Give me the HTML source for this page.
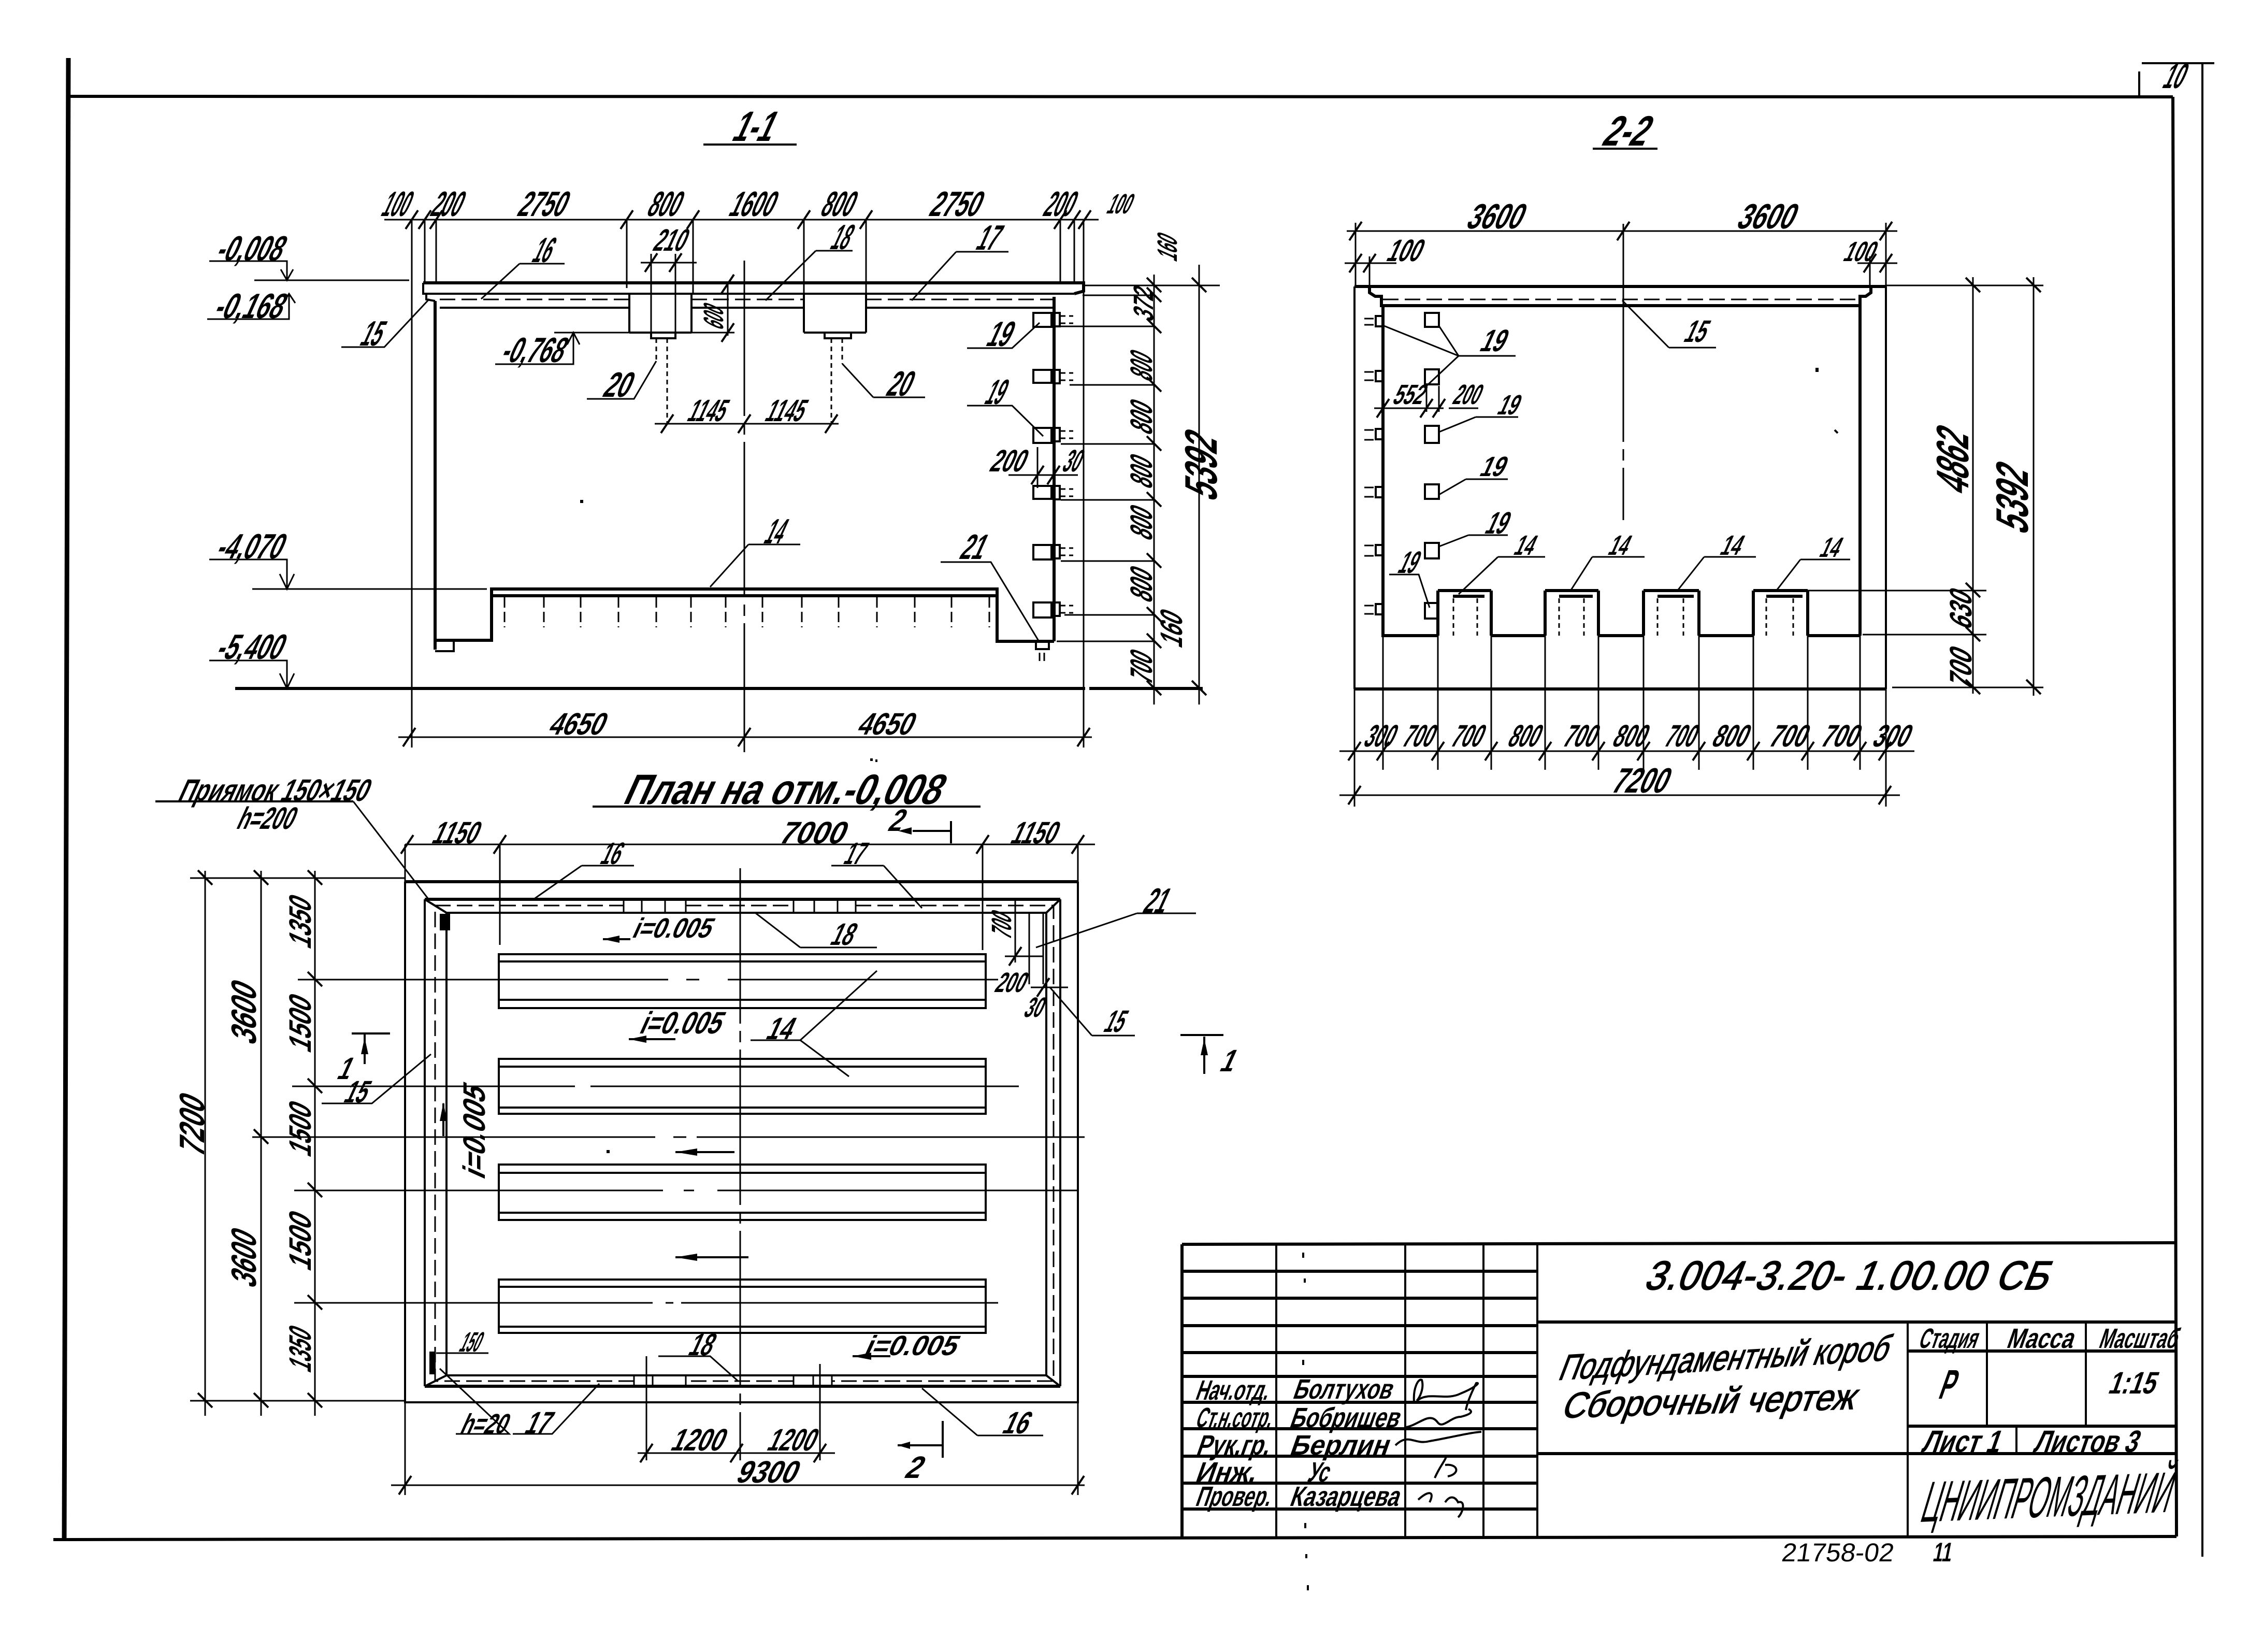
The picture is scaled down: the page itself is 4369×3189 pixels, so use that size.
<!DOCTYPE html>
<html lang="ru"><head><meta charset="utf-8"><title>Подфундаментный короб</title>
<style>
html,body{margin:0;padding:0;background:#fff}
svg{display:block}
path,polyline{fill:none;stroke:#000;stroke-linecap:butt}
.k{stroke-width:6}.m{stroke-width:4}.h{stroke-width:3}
.da{stroke-width:3;stroke-dasharray:30 12}
.db{stroke-width:3;stroke-dasharray:9 7}
.c{stroke-width:3;stroke-dasharray:300 14 22 14}
.d{stroke-width:0;marker:url(#t)}.v{stroke-width:0;marker:url(#u)}
.f{fill:#000;stroke:none}
text{font-family:"Liberation Sans",sans-serif;font-weight:bold;fill:#000;font-size:68px}
.s{font-size:54px}.n{font-size:60px}.b{font-size:82px}.g{font-size:88px}
</style></head><body>
<svg xmlns="http://www.w3.org/2000/svg" width="4369" height="3189" viewBox="0 0 4369 3189">
<defs>
<marker id="t" markerUnits="userSpaceOnUse" markerWidth="40" markerHeight="50" refX="20" refY="25" orient="0"><path d="M8 43L32 7" style="stroke-width:4"/></marker>
<marker id="u" markerUnits="userSpaceOnUse" markerWidth="40" markerHeight="50" refX="20" refY="25" orient="0"><path d="M6 10L34 38" style="stroke-width:4"/></marker>
</defs>
<rect width="4369" height="3189" fill="#fff"/>

<!-- sheet frame -->
<path style="stroke-width:9" d="M132 112L124 2972"/>
<path class="k" d="M132 186L4195 187M103 2972L4202 2966"/>
<path class="k" d="M4195 187L4202 2966"/>
<path class="m" d="M4252 122V3005M4135 122H4275M4130 138V185"/>
<text transform="matrix(1 0 -.45 1 4172 170)" textLength="38" lengthAdjust="spacingAndGlyphs">10</text>

<!-- SECTION 1-1 -->
<text class="b" transform="matrix(1 0 -.45 1 1410 272)" textLength="76" lengthAdjust="spacingAndGlyphs">1-1</text>
<path class="m" d="M1358 279H1538"/>
<path class="k" d="M817 546H2092V562L2074 567M840 581V1254M2035 573V1238M840 1236H949V1137H1925V1238H2035M949 1150H1925M454 1329H2095M2103 1329H2322"/>
<path class="m" d="M817 546V567H2074M823 567V578L840 581M1215 642H1335M1552 642H1672M1215 567V642M1335 567V642M1552 567V642M1672 567V642M1257 642V653H1304V642M1592 642V653H1643V642M840 1257H876V1236M2000 1238V1253H2025V1238M849 594H1215M1335 594H1552M1672 594H2035"/>
<path class="da" d="M849 578H1215M1335 578H1552M1672 578H2035M2007 1260V1276M2016 1260V1276"/>
<path class="h" d="M491 541H790M487 1137H940M742 424H2121M795 424V1443M820 424V546M842 424V546M1210 424V556M1338 424V567M1552 424V567M1672 424V567M2047 424V546M2074 424V546M2092 424V1443M1237 507H1345M1257 490V642M1304 490V642M1070 642H1418M1405 548V648M769 1423H2108M1264 818H1619M1947 917H2081M2003 863V942M2034 863V942M2228 530V1360M2315 511V1360M2092 551H2355M2090 570H2228M2048 630H2228M2065 743H2228M2048 857H2228M2048 965H2228M2048 1083H2228M2055 1187H2228M2040 1238H2228"/>
<path class="db" d="M1267 653V700M1288 653V820M1605 653V820M1626 653V702"/>
<path class="c" d="M1437 503V1452"/>
<polyline class="d" points="795,424 820,424 842,424 1210,424 1338,424 1552,424 1672,424 2047,424 2074,424 2094,424"/>
<polyline class="d" points="1257,507 1304,507"/>
<polyline class="d" points="790,1423 1437,1423 2092,1423"/>
<polyline class="d" points="1288,818 1437,818 1605,818"/>
<polyline class="d" points="2003,917 2034,917"/>
<polyline class="v" points="2228,551 2228,570 2228,630 2228,743 2228,857 2228,965 2228,1083 2228,1187 2228,1238 2228,1329"/>
<polyline class="v" points="2315,551 2315,1329"/>
<polyline class="d" points="1405,548 1405,642"/>
<!-- squares + brackets -->
<path class="m" d="M1995 604h35v27h-35zM1995 714h35v25h-35zM1995 826h35v29h-35zM1995 938h35v25h-35zM1995 1052h35v28h-35zM1995 1163h35v29h-35zM2037 604H2046V630H2037M2037 714H2046V740H2037M2037 826H2046V852H2037M2037 938H2046V964H2037M2037 1052H2046V1078H2037M2037 1163H2046V1189H2037"/>
<path class="db" d="M2048 610H2072M2048 624H2072M2048 720H2072M2048 734H2072M2048 832H2072M2048 846H2072M2048 944H2072M2048 958H2072M2048 1058H2072M2048 1072H2072M2048 1169H2072M2048 1183H2072"/>
<!-- elevation arrows -->
<path class="h" d="M404 504H554V541M542 520L554 541L566 520M400 616H558V567M546 585L558 567L570 585M404 1080H554V1137M540 1108L554 1137L568 1108M404 1275H554V1329M540 1300L554 1329L568 1300M956 703H1107V642M1095 665L1107 642L1119 665"/>
<!-- leaders -->
<path class="h" d="M659 670H742L829 577M1003 509H1090M1003 509L929 577M1575 484H1646M1575 484L1478 580M1846 486H1947M1846 486L1760 580M1867 672H1954L2007 623M1867 783H1954L2014 842M1133 770H1224L1267 697M1686 767H1786M1686 767L1626 702M1445 1051H1545M1445 1051L1371 1133M1816 1085H1913L2007 1240"/>
<!-- dashes in footing -->
<path class="da" d="M974 1153V1211M1050 1153V1211M1121 1153V1211M1194 1153V1211M1267 1153V1211M1334 1153V1211M1401 1153V1211M1472 1153V1211M1548 1153V1211M1619 1153V1211M1693 1153V1211M1766 1153V1211M1837 1153V1211M1910 1153V1211" style="stroke-dasharray:20 8"/>
<!-- 1-1 text -->
<g>
<text transform="matrix(1 0 -.45 1 733 417)" textLength="50" lengthAdjust="spacingAndGlyphs">100</text>
<text transform="matrix(1 0 -.45 1 828 417)" textLength="56" lengthAdjust="spacingAndGlyphs">200</text>
<text transform="matrix(1 0 -.45 1 996 417)" textLength="90" lengthAdjust="spacingAndGlyphs">2750</text>
<text transform="matrix(1 0 -.45 1 1246 417)" textLength="60" lengthAdjust="spacingAndGlyphs">800</text>
<text transform="matrix(1 0 -.45 1 1404 417)" textLength="84" lengthAdjust="spacingAndGlyphs">1600</text>
<text transform="matrix(1 0 -.45 1 1581 417)" textLength="60" lengthAdjust="spacingAndGlyphs">800</text>
<text transform="matrix(1 0 -.45 1 1791 417)" textLength="95" lengthAdjust="spacingAndGlyphs">2750</text>
<text transform="matrix(1 0 -.45 1 2011 417)" textLength="55" lengthAdjust="spacingAndGlyphs">200</text>
<text class="s" transform="matrix(1 0 -.45 1 2134 412)" textLength="44" lengthAdjust="spacingAndGlyphs">100</text>
<text class="n" transform="matrix(1 0 -.45 1 1258 484)" textLength="60" lengthAdjust="spacingAndGlyphs">210</text>
<text class="n" transform="matrix(1 0 -.45 1 1056 1418)" textLength="105" lengthAdjust="spacingAndGlyphs">4650</text>
<text class="n" transform="matrix(1 0 -.45 1 1652 1418)" textLength="105" lengthAdjust="spacingAndGlyphs">4650</text>
<text class="n" transform="matrix(1 0 -.45 1 1324 813)" textLength="70" lengthAdjust="spacingAndGlyphs">1145</text>
<text class="n" transform="matrix(1 0 -.45 1 1474 813)" textLength="72" lengthAdjust="spacingAndGlyphs">1145</text>
<text class="n" transform="matrix(1 0 -.45 1 1908 910)" textLength="65" lengthAdjust="spacingAndGlyphs">200</text>
<text class="n" transform="matrix(1 0 -.45 1 2048 910)" textLength="32" lengthAdjust="spacingAndGlyphs">30</text>
<text transform="matrix(1 0 -.45 1 414 503)" textLength="125" lengthAdjust="spacingAndGlyphs">-0,008</text>
<text transform="matrix(1 0 -.45 1 410 614)" textLength="130" lengthAdjust="spacingAndGlyphs">-0,168</text>
<text transform="matrix(1 0 -.45 1 964 699)" textLength="118" lengthAdjust="spacingAndGlyphs">-0,768</text>
<text transform="matrix(1 0 -.45 1 414 1078)" textLength="125" lengthAdjust="spacingAndGlyphs">-4,070</text>
<text transform="matrix(1 0 -.45 1 414 1272)" textLength="125" lengthAdjust="spacingAndGlyphs">-5,400</text>
<text transform="matrix(1 0 -.45 1 692 667)" textLength="38" lengthAdjust="spacingAndGlyphs">15</text>
<text transform="matrix(1 0 -.45 1 1024 506)" textLength="34" lengthAdjust="spacingAndGlyphs">16</text>
<text transform="matrix(1 0 -.45 1 1600 481)" textLength="34" lengthAdjust="spacingAndGlyphs">18</text>
<text transform="matrix(1 0 -.45 1 1881 482)" textLength="40" lengthAdjust="spacingAndGlyphs">17</text>
<text transform="matrix(1 0 -.45 1 1901 668)" textLength="44" lengthAdjust="spacingAndGlyphs">19</text>
<text transform="matrix(1 0 -.45 1 1898 780)" textLength="34" lengthAdjust="spacingAndGlyphs">19</text>
<text transform="matrix(1 0 -.45 1 1161 766)" textLength="50" lengthAdjust="spacingAndGlyphs">20</text>
<text transform="matrix(1 0 -.45 1 1708 764)" textLength="44" lengthAdjust="spacingAndGlyphs">20</text>
<text transform="matrix(1 0 -.45 1 1472 1049)" textLength="34" lengthAdjust="spacingAndGlyphs">14</text>
<text transform="matrix(1 0 -.45 1 1850 1079)" textLength="44" lengthAdjust="spacingAndGlyphs">21</text>
<!-- vertical -->
<text class="s" transform="matrix(0 -1 1 .45 2272 507)" textLength="46" lengthAdjust="spacingAndGlyphs">160</text>
<text class="s" transform="matrix(0 -1 1 .45 2226 623)" textLength="60" lengthAdjust="spacingAndGlyphs">372</text>
<text class="n" transform="matrix(0 -1 1 .45 2224 739)" textLength="50" lengthAdjust="spacingAndGlyphs">800</text>
<text class="n" transform="matrix(0 -1 1 .45 2224 842)" textLength="58" lengthAdjust="spacingAndGlyphs">800</text>
<text class="n" transform="matrix(0 -1 1 .45 2224 946)" textLength="56" lengthAdjust="spacingAndGlyphs">800</text>
<text class="n" transform="matrix(0 -1 1 .45 2224 1046)" textLength="58" lengthAdjust="spacingAndGlyphs">800</text>
<text class="n" transform="matrix(0 -1 1 .45 2224 1166)" textLength="60" lengthAdjust="spacingAndGlyphs">800</text>
<text class="n" transform="matrix(0 -1 1 .45 2282 1253)" textLength="64" lengthAdjust="spacingAndGlyphs">160</text>
<text class="n" transform="matrix(0 -1 1 .45 2224 1323)" textLength="56" lengthAdjust="spacingAndGlyphs">700</text>
<text class="g" transform="matrix(0 -1 1 .45 2349 971)" textLength="122" lengthAdjust="spacingAndGlyphs">5392</text>
<text class="s" transform="matrix(0 -1 1 .45 1396 639)" textLength="42" lengthAdjust="spacingAndGlyphs">600</text>
</g>

<!-- SECTION 2-2 -->
<text class="b" transform="matrix(1 0 -.45 1 3090 281)" textLength="84" lengthAdjust="spacingAndGlyphs">2-2</text>
<path class="m" d="M3075 287H3200"/>
<path class="k" d="M2615 553H3641M2615 1330H3641M2644 553V565L2655 572H2667V590H3591V572H3602L3612 565V553"/>
<path class="k" d="M2670 593V1227H2776M2879 1227H2983M3086 1227H3173M3280 1227H3385M3490 1227H3591M3591 591V1227M2776 1140H2879M2983 1140H3086M3173 1140H3280M3385 1140H3490M2776 1140V1227M2879 1140V1227M2983 1140V1227M3086 1140V1227M3173 1140V1227M3280 1140V1227M3385 1140V1227M3490 1140V1227"/>
<path class="k" d="M2805 1151H2866M3010 1151H3075M3200 1151H3270M3410 1151H3480"/>
<path class="m" d="M2615 553V1330M3641 553V1330"/>
<path class="da" d="M2670 578H3590"/>
<path class="db" d="M2806 1155V1227M2852 1155V1227M3010 1155V1227M3058 1155V1227M3200 1155V1227M3250 1155V1227M3410 1155V1227M3462 1155V1227"/>
<path class="h" d="M2600 446H3663M2596 508H2696M3586 508H3663M2617 430V553M2644 495V553M3134 432V553M3610 495V553M3641 430V553M3641 551H3945M3653 1327H3945M3490 1140H3835M3596 1225H3835M3809 535V1339M3926 535V1343M2586 1450H3696M2586 1535H3668M2615 1330V1557M3641 1330V1557M2670 1227V1486M2776 1227V1486M2879 1227V1486M2983 1227V1486M3086 1227V1486M3173 1227V1486M3280 1227V1486M3385 1227V1486M3490 1227V1486M3591 1227V1486M2653 788H2787M2754 745V795M2778 745V795M2797 788H2854"/>
<path class="c" d="M3134 553V1004"/>
<polyline class="d" points="2617,446 3134,446 3641,446"/>
<polyline class="d" points="2617,508 2644,508"/>
<polyline class="d" points="3610,508 3641,508"/>
<polyline class="d" points="2615,1450 2670,1450 2776,1450 2879,1450 2983,1450 3086,1450 3173,1450 3280,1450 3385,1450 3490,1450 3591,1450 3639,1450"/>
<polyline class="d" points="2615,1535 3639,1535"/>
<polyline class="d" points="2670,788 2754,788 2778,788"/>
<polyline class="v" points="3809,551 3809,1140 3809,1225 3809,1327"/>
<polyline class="v" points="3926,551 3926,1327"/>
<path class="m" d="M2751 604h27v27h-27zM2751 713h27v29h-27zM2751 822h27v33h-27zM2751 935h27v28h-27zM2751 1048h27v30h-27zM2778 1164H2751V1194H2778M2670 610H2656V630H2670M2670 716H2656V736H2670M2670 828H2656V848H2670M2670 940H2656V960H2670M2670 1052H2656V1072H2670M2670 1166H2656V1186H2670"/>
<path class="h" d="M2634 615H2652M2634 627H2652M2634 718H2652M2634 734H2652M2634 830H2652M2634 849H2652M2634 941H2652M2634 959H2652M2634 1053H2652M2634 1073H2652M2634 1169H2652M2634 1185H2652"/>
<path class="h" d="M3222 671H3313M3222 671L3132 580M2816 687H2926M2816 687L2672 629M2816 687L2778 629M2816 687L2754 745M2849 805H2931M2849 805L2778 834M2830 925H2911M2830 925L2778 955M2835 1033H2911M2835 1033L2778 1055M2682 1109H2739L2760 1173M2892 1075H2983M2892 1075L2816 1147M3074 1075H3175M3074 1075L3031 1142M3290 1075H3390M3290 1075L3237 1142M3476 1080H3572M3476 1080L3428 1142"/>
<g>
<text transform="matrix(1 0 -.45 1 2828 441)" textLength="105" lengthAdjust="spacingAndGlyphs">3600</text>
<text transform="matrix(1 0 -.45 1 3350 441)" textLength="108" lengthAdjust="spacingAndGlyphs">3600</text>
<text class="n" transform="matrix(1 0 -.45 1 2674 504)" textLength="64" lengthAdjust="spacingAndGlyphs">100</text>
<text class="s" transform="matrix(1 0 -.45 1 3556 504)" textLength="58" lengthAdjust="spacingAndGlyphs">100</text>
<text class="n" transform="matrix(1 0 -.45 1 3248 660)" textLength="40" lengthAdjust="spacingAndGlyphs">15</text>
<text class="n" transform="matrix(1 0 -.45 1 2854 678)" textLength="46" lengthAdjust="spacingAndGlyphs">19</text>
<text class="s" transform="matrix(1 0 -.45 1 2686 780)" textLength="58" lengthAdjust="spacingAndGlyphs">552</text>
<text class="s" transform="matrix(1 0 -.45 1 2802 780)" textLength="50" lengthAdjust="spacingAndGlyphs">200</text>
<text class="s" transform="matrix(1 0 -.45 1 2888 800)" textLength="38" lengthAdjust="spacingAndGlyphs">19</text>
<text class="s" transform="matrix(1 0 -.45 1 2854 919)" textLength="46" lengthAdjust="spacingAndGlyphs">19</text>
<text class="n" transform="matrix(1 0 -.45 1 2864 1030)" textLength="40" lengthAdjust="spacingAndGlyphs">19</text>
<text class="n" transform="matrix(1 0 -.45 1 2696 1106)" textLength="34" lengthAdjust="spacingAndGlyphs">19</text>
<text class="s" transform="matrix(1 0 -.45 1 2920 1071)" textLength="36" lengthAdjust="spacingAndGlyphs">14</text>
<text class="s" transform="matrix(1 0 -.45 1 3102 1071)" textLength="36" lengthAdjust="spacingAndGlyphs">14</text>
<text class="s" transform="matrix(1 0 -.45 1 3318 1071)" textLength="38" lengthAdjust="spacingAndGlyphs">14</text>
<text class="s" transform="matrix(1 0 -.45 1 3510 1075)" textLength="36" lengthAdjust="spacingAndGlyphs">14</text>
<text class="n" transform="matrix(1 0 -.45 1 2630 1441)" textLength="56" lengthAdjust="spacingAndGlyphs">300</text>
<text class="n" transform="matrix(1 0 -.45 1 2704 1441)" textLength="58" lengthAdjust="spacingAndGlyphs">700</text>
<text class="n" transform="matrix(1 0 -.45 1 2798 1441)" textLength="58" lengthAdjust="spacingAndGlyphs">700</text>
<text class="n" transform="matrix(1 0 -.45 1 2908 1441)" textLength="58" lengthAdjust="spacingAndGlyphs">800</text>
<text class="n" transform="matrix(1 0 -.45 1 3014 1441)" textLength="62" lengthAdjust="spacingAndGlyphs">700</text>
<text class="n" transform="matrix(1 0 -.45 1 3110 1441)" textLength="62" lengthAdjust="spacingAndGlyphs">800</text>
<text class="n" transform="matrix(1 0 -.45 1 3210 1441)" textLength="58" lengthAdjust="spacingAndGlyphs">700</text>
<text class="n" transform="matrix(1 0 -.45 1 3302 1441)" textLength="66" lengthAdjust="spacingAndGlyphs">800</text>
<text class="n" transform="matrix(1 0 -.45 1 3412 1441)" textLength="70" lengthAdjust="spacingAndGlyphs">700</text>
<text class="n" transform="matrix(1 0 -.45 1 3512 1441)" textLength="70" lengthAdjust="spacingAndGlyphs">700</text>
<text class="n" transform="matrix(1 0 -.45 1 3612 1441)" textLength="68" lengthAdjust="spacingAndGlyphs">300</text>
<text transform="matrix(1 0 -.45 1 3108 1530)" textLength="105" lengthAdjust="spacingAndGlyphs">7200</text>
<text class="g" transform="matrix(0 -1 1 .45 3800 959)" textLength="118" lengthAdjust="spacingAndGlyphs">4862</text>
<text class="g" transform="matrix(0 -1 1 .45 3915 1035)" textLength="124" lengthAdjust="spacingAndGlyphs">5392</text>
<text class="n" transform="matrix(0 -1 1 .45 3806 1218)" textLength="70" lengthAdjust="spacingAndGlyphs">630</text>
<text class="n" transform="matrix(0 -1 1 .45 3806 1334)" textLength="74" lengthAdjust="spacingAndGlyphs">700</text>
</g>

<!-- PLAN -->
<text class="b" transform="matrix(1 0 -.45 1 1200 1552)" textLength="610" lengthAdjust="spacingAndGlyphs">План на отм.-0,008</text>
<path class="m" d="M1144 1557H1893M300 1547H682"/>
<path class="h" d="M682 1547L829 1738"/>
<text class="n" transform="matrix(1 0 -.45 1 341 1546)" textLength="364" lengthAdjust="spacingAndGlyphs">Приямок 150×150</text>
<text class="n" transform="matrix(1 0 -.45 1 454 1600)" textLength="108" lengthAdjust="spacingAndGlyphs">h=200</text>

<path class="k" d="M782 1702H2081"/>
<path class="m" d="M782 1702V2707H2081V1702"/>
<path class="k" d="M820 1736H2047M820 2676H2047"/>
<path class="m" d="M820 1736V2676M2047 1736V2676M862 1762H2020M862 2655H2020M862 1762V2655M2020 1762V2655M820 1736L862 1762M2047 1736L2020 1762M820 2676L862 2655M2047 2676L2020 2655"/>
<path class="da" d="M840 1748H1204M1324 1748H1532M1652 1748H2034V2666H1606M1532 2666H1324M1224 2666H840V1748"/>
<path class="h" d="M1204 1736V1762M1239 1736V1762M1284 1736V1762M1324 1736V1762M1532 1736V1762M1572 1736V1762M1617 1736V1762M1652 1736V1762M1224 2655V2676M1260 2655V2676M1324 2655V2676M1532 2655V2676M1570 2655V2676M1606 2655V2676M1987 1762V1900M2014 1762V1900"/>
<path class="f" d="M849 1764h20v32h-20zM829 2609h12v44h-12z"/>
<!-- strips -->
<path class="m" d="M963 1842H1903V1946H963zM963 2044H1903V2150H963zM963 2248H1903V2355H963zM963 2470H1903V2573H963z"/>
<path class="m" d="M963 1856H1903M963 1930H1903M963 2059H1903M963 2138H1903M963 2264H1903M963 2341H1903M963 2484H1903M963 2561H1903"/>
<path class="h" d="M575 1891H1290M1325 1891H1350M1405 1891H1927M564 2097H1110M1140 2097H1967M568 2298H1280M1320 2298H1340M1385 2298H2081M568 2515H1260M1285 2515H1300M1315 2515H1927M487 2195H1265M1300 2195H1325M1345 2195H2094"/>
<path class="c" d="M1429 1676V2819"/>
<!-- dims -->
<path class="h" d="M367 1695H782M367 2704H782M396 1681V2733M504 1681V2733M608 1681V2733M782 1630V1702M2081 1630V1702M782 1630H2114M965 1630V1824M1897 1630V1834M1231 2805H1612M1248 2618V2819M1583 2633V2819M755 2867H2094M782 2707V2886M2081 2707V2886M1960 1738V1858M1940 1846H2014M1990 1906H2062"/>
<polyline class="v" points="396,1695 396,2704"/>
<polyline class="v" points="504,1695 504,2195 504,2704"/>
<polyline class="v" points="608,1695 608,1891 608,2097 608,2298 608,2515 608,2704"/>
<polyline class="d" points="786,1630 965,1630 1897,1630 2081,1630"/>
<polyline class="d" points="1248,2805 1422,2805 1583,2805"/>
<polyline class="d" points="782,2867 2081,2867"/>
<polyline class="d" points="1960,1846 2014,1906"/>
<!-- section marks & flow arrows -->
<path class="m" d="M1762 1604H1836V1585M1836 1585V1628M1733 2790H1820M1820 2743V2814M704 2054V1997M679 1995H753M2279 1998H2362M2325 2001V2073M1304 2224H1418M1304 2427H1445M1164 1813H1217M1214 2006H1304M1646 2618H1719M856 2130V2193"/>
<path class="f" d="M1734 1604l26-7v14zM1733 2790l24-7v14zM704 2003l-7 32h14zM2325 2005l-7 32h14zM1304 2224l42-7v14zM1304 2427l42-7v14zM1164 1813l32-7v14zM1214 2006l34-7v14zM1646 2618l36-7v14zM856 2128l-7 36h14z"/>
<!-- leaders -->
<path class="h" d="M1123 1671H1224M1123 1671L1030 1736M1605 1671H1706M1706 1671L1780 1753M1545 1829H1693M1545 1829L1458 1762M2195 1763H2309M2195 1763L2000 1829M2108 1999H2191M2108 1999L2027 1906M1449 2008H1545M1545 2008L1693 1874M1545 2008L1639 2078M621 2130H718L832 2035M842 2612H943M1271 2618H1371L1425 2666M880 2768H983L849 2642M990 2768H1066L1157 2671M1887 2771H2014M1887 2771L1780 2680"/>
<g>
<text class="n" transform="matrix(1 0 -.45 1 831 1628)" textLength="86" lengthAdjust="spacingAndGlyphs">1150</text>
<text class="n" transform="matrix(1 0 -.45 1 1501 1628)" textLength="125" lengthAdjust="spacingAndGlyphs">7000</text>
<text class="n" transform="matrix(1 0 -.45 1 1948 1628)" textLength="86" lengthAdjust="spacingAndGlyphs">1150</text>
<text class="n" transform="matrix(1 0 -.45 1 1712 1604)" textLength="26" lengthAdjust="spacingAndGlyphs">2</text>
<text class="n" transform="matrix(1 0 -.45 1 1156 1668)" textLength="36" lengthAdjust="spacingAndGlyphs">16</text>
<text class="n" transform="matrix(1 0 -.45 1 1626 1668)" textLength="36" lengthAdjust="spacingAndGlyphs">17</text>
<text class="n" transform="matrix(1 0 -.45 1 1600 1824)" textLength="42" lengthAdjust="spacingAndGlyphs">18</text>
<text transform="matrix(1 0 -.45 1 2204 1762)" textLength="42" lengthAdjust="spacingAndGlyphs">21</text>
<text class="n" transform="matrix(1 0 -.45 1 2128 1992)" textLength="36" lengthAdjust="spacingAndGlyphs">15</text>
<text class="s" transform="matrix(1 0 -.45 1 1918 1915)" textLength="56" lengthAdjust="spacingAndGlyphs">200</text>
<text class="s" transform="matrix(1 0 -.45 1 1974 1963)" textLength="34" lengthAdjust="spacingAndGlyphs">30</text>
<text class="s" transform="matrix(1 0 -.45 1 1218 1810)" textLength="150" lengthAdjust="spacingAndGlyphs">i=0.005</text>
<text class="n" transform="matrix(1 0 -.45 1 1232 1995)" textLength="155" lengthAdjust="spacingAndGlyphs">i=0.005</text>
<text class="s" transform="matrix(1 0 -.45 1 1666 2616)" textLength="176" lengthAdjust="spacingAndGlyphs">i=0.005</text>
<text class="n" transform="matrix(1 0 -.45 1 1476 2006)" textLength="48" lengthAdjust="spacingAndGlyphs">14</text>
<text class="n" transform="matrix(1 0 -.45 1 661 2128)" textLength="42" lengthAdjust="spacingAndGlyphs">15</text>
<text class="n" transform="matrix(1 0 -.45 1 648 2083)" textLength="24" lengthAdjust="spacingAndGlyphs">1</text>
<text class="n" transform="matrix(1 0 -.45 1 2352 2068)" textLength="26" lengthAdjust="spacingAndGlyphs">1</text>
<text class="s" transform="matrix(1 0 -.45 1 884 2609)" textLength="38" lengthAdjust="spacingAndGlyphs">150</text>
<text class="n" transform="matrix(1 0 -.45 1 1326 2616)" textLength="44" lengthAdjust="spacingAndGlyphs">18</text>
<text class="s" transform="matrix(1 0 -.45 1 886 2767)" textLength="88" lengthAdjust="spacingAndGlyphs">h=20</text>
<text class="n" transform="matrix(1 0 -.45 1 1010 2767)" textLength="46" lengthAdjust="spacingAndGlyphs">17</text>
<text class="n" transform="matrix(1 0 -.45 1 1932 2767)" textLength="48" lengthAdjust="spacingAndGlyphs">16</text>
<text class="n" transform="matrix(1 0 -.45 1 1292 2800)" textLength="100" lengthAdjust="spacingAndGlyphs">1200</text>
<text class="n" transform="matrix(1 0 -.45 1 1478 2800)" textLength="90" lengthAdjust="spacingAndGlyphs">1200</text>
<text class="n" transform="matrix(1 0 -.45 1 1744 2853)" textLength="30" lengthAdjust="spacingAndGlyphs">2</text>
<text class="n" transform="matrix(1 0 -.45 1 1418 2862)" textLength="115" lengthAdjust="spacingAndGlyphs">9300</text>
<text transform="matrix(0 -1 1 .45 394 2236)" textLength="112" lengthAdjust="spacingAndGlyphs">7200</text>
<text transform="matrix(0 -1 1 .45 494 2020)" textLength="114" lengthAdjust="spacingAndGlyphs">3600</text>
<text transform="matrix(0 -1 1 .45 494 2489)" textLength="104" lengthAdjust="spacingAndGlyphs">3600</text>
<text class="n" transform="matrix(0 -1 1 .45 600 1834)" textLength="94" lengthAdjust="spacingAndGlyphs">1350</text>
<text class="n" transform="matrix(0 -1 1 .45 600 2035)" textLength="104" lengthAdjust="spacingAndGlyphs">1500</text>
<text class="n" transform="matrix(0 -1 1 .45 600 2236)" textLength="98" lengthAdjust="spacingAndGlyphs">1500</text>
<text class="n" transform="matrix(0 -1 1 .45 600 2456)" textLength="106" lengthAdjust="spacingAndGlyphs">1500</text>
<text class="n" transform="matrix(0 -1 1 .45 600 2652)" textLength="80" lengthAdjust="spacingAndGlyphs">1350</text>
<text class="n" transform="matrix(0 -1 1 .45 936 2279)" textLength="176" lengthAdjust="spacingAndGlyphs">i=0.005</text>
<text class="s" transform="matrix(0 -1 1 .45 1952 1815)" textLength="46" lengthAdjust="spacingAndGlyphs">700</text>
</g>

<!-- TITLE BLOCK -->
<path class="k" d="M2282 2402V2966M2282 2402L4202 2399M2282 2454H2968M2282 2506H2968M2282 2559H2968M2282 2611H2968M2282 2657H2968M2282 2707H2968M2282 2758H2968M2282 2811H2968M2282 2863H2968M2282 2913H2968M2968 2552H4202M2968 2806H4202M3683 2608H4202M3683 2753H4202"/>
<path class="m" d="M2464 2402V2966M2713 2402V2966M2864 2402V2966M2968 2402V2966M3683 2552V2966M3836 2552V2753M4027 2552V2753M3893 2753V2806"/>
<g>
<text transform="matrix(1 0 -.4 1 3172 2489)" textLength="780" lengthAdjust="spacingAndGlyphs" style="font-size:78px;font-weight:normal;letter-spacing:2px;stroke:#000;stroke-width:2px">3.004-3.20- 1.00.00 СБ</text>
<text transform="matrix(.998 -.06 -.38 1 3006 2664)" textLength="636" lengthAdjust="spacingAndGlyphs" style="font-size:70px;font-weight:normal;stroke:#000;stroke-width:1.5px">Подфундаментный короб</text>
<text transform="matrix(.998 -.03 -.38 1 3012 2737)" textLength="566" lengthAdjust="spacingAndGlyphs" style="font-size:70px;font-weight:normal;stroke:#000;stroke-width:1.5px">Сборочный   чертеж</text>
<text class="s" transform="matrix(1 0 -.35 1 3702 2602)" textLength="112" lengthAdjust="spacingAndGlyphs">Стадия</text>
<text class="s" transform="matrix(1 0 -.35 1 3872 2602)" textLength="128" lengthAdjust="spacingAndGlyphs">Масса</text>
<text class="s" transform="matrix(1 0 -.35 1 4050 2602)" textLength="150" lengthAdjust="spacingAndGlyphs">Масштаб</text>
<text transform="matrix(1 0 -.35 1 3740 2700)" textLength="28" lengthAdjust="spacingAndGlyphs" style="font-size:80px">Р</text>
<text class="n" transform="matrix(1 0 -.35 1 4068 2690)" textLength="90" lengthAdjust="spacingAndGlyphs">1:15</text>
<text class="n" transform="matrix(1 0 -.35 1 3708 2803)" textLength="150" lengthAdjust="spacingAndGlyphs">Лист 1</text>
<text class="n" transform="matrix(1 0 -.35 1 3924 2803)" textLength="200" lengthAdjust="spacingAndGlyphs">Листов 3</text>
<text transform="matrix(1 -.04 -.3 1 3704 2938)" textLength="480" lengthAdjust="spacingAndGlyphs" style="font-size:112px;font-weight:normal">ЦНИИПРОМЗДАНИЙ</text>
<text class="s" transform="matrix(1 0 -.35 1 2306 2702)" textLength="140" lengthAdjust="spacingAndGlyphs">Нач.отд.</text>
<text class="s" transform="matrix(1 0 -.35 1 2494 2700)" textLength="190" lengthAdjust="spacingAndGlyphs">Болтухов</text>
<text class="s" transform="matrix(1 0 -.35 1 2306 2755)" textLength="146" lengthAdjust="spacingAndGlyphs">Ст.н.сотр.</text>
<text class="s" transform="matrix(1 0 -.35 1 2488 2755)" textLength="210" lengthAdjust="spacingAndGlyphs">Бобришев</text>
<text class="s" transform="matrix(1 0 -.35 1 2308 2808)" textLength="140" lengthAdjust="spacingAndGlyphs">Рук.гр.</text>
<text class="s" transform="matrix(1 0 -.35 1 2488 2808)" textLength="190" lengthAdjust="spacingAndGlyphs">Берлин</text>
<text class="s" transform="matrix(1 0 -.35 1 2306 2860)" textLength="116" lengthAdjust="spacingAndGlyphs">Инж.</text>
<text class="s" transform="matrix(1 0 -.35 1 2522 2860)" textLength="40" lengthAdjust="spacingAndGlyphs">Ус</text>
<text class="s" transform="matrix(1 0 -.35 1 2306 2907)" textLength="144" lengthAdjust="spacingAndGlyphs">Провер.</text>
<text class="s" transform="matrix(1 0 -.35 1 2488 2907)" textLength="210" lengthAdjust="spacingAndGlyphs">Казарцева</text>
<text transform="matrix(1 0 -.15 1 3438 3014)" textLength="216" lengthAdjust="spacingAndGlyphs" style="font-size:50px;font-weight:normal">21758-02</text>
<text transform="matrix(1 0 -.2 1 3730 3014)" textLength="36" lengthAdjust="spacingAndGlyphs" style="font-size:52px">11</text>
</g>
<!-- signatures -->
<path class="m" d="M2730 2706C2728 2680 2738 2660 2745 2664C2750 2680 2740 2700 2735 2704C2760 2685 2790 2705 2820 2690C2845 2680 2860 2668 2850 2670C2840 2690 2832 2710 2830 2722M2715 2755C2740 2750 2760 2725 2775 2745C2785 2760 2800 2735 2820 2735C2840 2730 2845 2725 2835 2720M2694 2790C2720 2765 2730 2790 2760 2782C2800 2775 2840 2765 2860 2764M2770 2853C2780 2830 2790 2820 2792 2812M2795 2850C2820 2845 2815 2825 2790 2828M2738 2895C2760 2875 2770 2880 2760 2900M2790 2900C2800 2885 2810 2890 2815 2900C2830 2895 2825 2920 2815 2929"/>
<!-- specks -->
<path class="m" d="M2516 2418V2428M2519 2468V2476M2516 2625V2635M2520 2940V2950M2522 3000V3008M2525 3060V3070M3542 830L3548 836"/>
<path class="f" d="M1120 965h6v6h-6zM1680 1464h5v5h-5zM1171 2220h6v6h-6zM3505 710h6v8h-6zM1690 1466h4v5h-4z"/>
</svg>
</body></html>
